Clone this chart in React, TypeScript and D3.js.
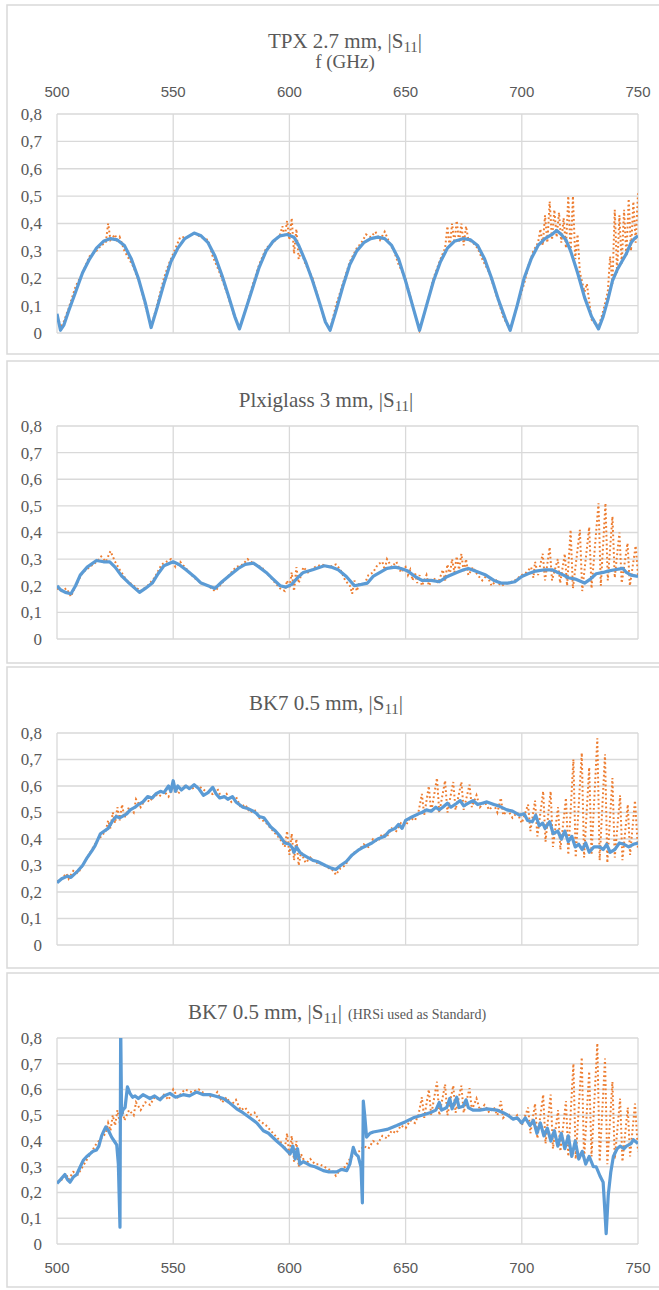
import React from 'react';
import * as d3 from 'd3';

type Pt = [number, number];

const freqTicks = [500, 550, 600, 650, 700, 750];
const s11Ticks = [0, 0.1, 0.2, 0.3, 0.4, 0.5, 0.6, 0.7, 0.8];

// TPX 2.7 mm
const tpxMeasured: Pt[] = [
  [500, 0.07], [501.5, 0.01], [503, 0.03], [505, 0.08], [508, 0.15], [511, 0.22], [514, 0.27], [517, 0.31],
  [520, 0.335], [523, 0.345], [526, 0.34], [529, 0.32], [532, 0.27], [535, 0.2], [538, 0.11], [540.5, 0.02],
  [543, 0.09], [546, 0.18], [549, 0.26], [552, 0.31], [555, 0.345], [559, 0.365], [562, 0.355], [565, 0.33],
  [568, 0.28], [571, 0.21], [574, 0.13], [576.5, 0.06], [578.5, 0.015],
  [581, 0.08], [584, 0.16], [587, 0.24], [590, 0.3], [593, 0.335], [596, 0.355], [599, 0.36], [602, 0.35],
  [604, 0.32], [607, 0.26], [610, 0.19], [613, 0.11], [615.5, 0.04], [617.5, 0.01],
  [620, 0.08], [623, 0.17], [626, 0.25], [629, 0.3], [632, 0.33], [635, 0.345], [638, 0.35], [641, 0.345],
  [644, 0.32], [647, 0.27], [650, 0.19], [653, 0.1], [656, 0.01],
  [659, 0.1], [662, 0.19], [665, 0.26], [668, 0.31], [671, 0.335], [675, 0.345], [678, 0.34], [681, 0.32],
  [684, 0.27], [687, 0.2], [690, 0.12], [693, 0.05], [695, 0.01],
  [698, 0.1], [701, 0.2], [704, 0.27], [707, 0.32], [710, 0.345], [713, 0.36], [715, 0.375], [717, 0.36],
  [719, 0.34], [721, 0.3], [724, 0.22], [727, 0.13], [730, 0.06], [733, 0.015],
  [735, 0.06], [737, 0.12], [739, 0.19], [741, 0.23], [743, 0.26], [745, 0.29], [747, 0.33], [748.5, 0.345], [750, 0.355],
];

const tpxReference: Pt[] = [
  [500, 0.06], [502, 0.02], [505, 0.09], [508, 0.17], [511, 0.22], [514, 0.28], [517, 0.3], [519, 0.32],
  [521, 0.33], [522, 0.4], [523, 0.34], [525, 0.36], [526, 0.33], [527, 0.35], [529, 0.3], [531, 0.27],
  [533, 0.24], [536, 0.17], [538, 0.1], [540.5, 0.02], [543, 0.1], [546, 0.2], [548, 0.25], [551, 0.31],
  [553, 0.35], [556, 0.35], [559, 0.365], [562, 0.35], [565, 0.34], [567, 0.28], [570, 0.22], [573, 0.15],
  [576, 0.07], [578.5, 0.02], [581, 0.08], [584, 0.17], [587, 0.25], [590, 0.31], [593, 0.33], [596, 0.36],
  [597, 0.39], [598, 0.35], [599, 0.41], [600, 0.34], [601, 0.42], [602, 0.29], [603, 0.38], [604, 0.27],
  [605, 0.3], [607, 0.25], [610, 0.2], [613, 0.11], [615, 0.05], [617.5, 0.01], [620, 0.1], [623, 0.18],
  [626, 0.26], [629, 0.31], [631, 0.33], [633, 0.36], [635, 0.35], [637, 0.37], [639, 0.34], [641, 0.37],
  [643, 0.33], [645, 0.3], [647, 0.25], [650, 0.2], [653, 0.1], [656, 0.01], [659, 0.1], [662, 0.2],
  [665, 0.27], [667, 0.31], [668, 0.39], [669, 0.31], [670, 0.4], [671, 0.33], [672, 0.41], [673, 0.33],
  [674, 0.4], [675, 0.32], [676, 0.39], [677, 0.34], [679, 0.33], [681, 0.31], [683, 0.27], [686, 0.22],
  [689, 0.14], [692, 0.06], [695, 0.01], [698, 0.1], [701, 0.18], [703, 0.25], [705, 0.3], [707, 0.33],
  [708, 0.38], [709, 0.32], [710, 0.43], [711, 0.33], [712, 0.48], [713, 0.34], [714, 0.45], [715, 0.35],
  [716, 0.44], [717, 0.33], [718, 0.42], [719, 0.31], [720, 0.5], [721, 0.29], [722, 0.5], [723, 0.27],
  [724, 0.36], [725, 0.22], [727, 0.15], [728, 0.18], [730, 0.05], [733, 0.02], [735, 0.08], [737, 0.15],
  [738, 0.28], [739, 0.18], [740, 0.45], [741, 0.22], [742, 0.43], [743, 0.25], [744, 0.45], [745, 0.28],
  [746, 0.49], [747, 0.3], [748, 0.48], [749, 0.33], [750, 0.51],
];

// Plexiglass 3 mm
const plexiMeasured: Pt[] = [
  [500, 0.2], [501.5, 0.185], [503.6, 0.175], [506, 0.17], [508, 0.2], [510, 0.24], [513, 0.27], [517, 0.295],
  [520, 0.29], [522.7, 0.29], [525, 0.27], [528, 0.235], [531, 0.21], [535.5, 0.175], [538, 0.19], [541, 0.21],
  [543.5, 0.245], [546, 0.275], [550, 0.29], [552.5, 0.28], [555.5, 0.26], [559, 0.235], [562, 0.21], [565, 0.2],
  [568, 0.19], [571, 0.215], [574.5, 0.24], [578, 0.265], [581, 0.28], [584.5, 0.285], [587, 0.27], [590, 0.25],
  [593, 0.225], [596, 0.2], [598.5, 0.195], [601, 0.205], [603.5, 0.23], [606, 0.25], [610, 0.26], [615, 0.275],
  [618, 0.27], [621, 0.26], [624.5, 0.235], [628, 0.2], [631, 0.205], [633.6, 0.21], [636, 0.235], [639, 0.25],
  [642, 0.265], [645.5, 0.27], [648, 0.265], [651, 0.255], [654, 0.235], [657, 0.22], [661, 0.22], [664.5, 0.215],
  [668, 0.235], [672, 0.25], [675, 0.26], [677, 0.265], [680, 0.255], [684.5, 0.24], [688, 0.22], [691, 0.21],
  [694, 0.21], [697, 0.215], [700, 0.235], [702.7, 0.245], [706, 0.255], [710, 0.26], [713, 0.26], [715.5, 0.25],
  [718, 0.24], [720, 0.23], [723, 0.225], [727, 0.21], [729.5, 0.225], [732, 0.245], [735, 0.25], [737, 0.255],
  [740, 0.26], [743.5, 0.265], [745, 0.25], [747, 0.24], [750, 0.235],
];

const plexiReference: Pt[] = [
  [500, 0.19], [502, 0.18], [504, 0.19], [506, 0.16], [508, 0.2], [511, 0.25], [514, 0.27], [517, 0.29],
  [519, 0.31], [521, 0.29], [523, 0.33], [525, 0.29], [527, 0.26], [530, 0.22], [533, 0.2], [536, 0.18],
  [539, 0.2], [542, 0.23], [545, 0.28], [547, 0.29], [549, 0.3], [551, 0.27], [553, 0.29], [556, 0.26],
  [559, 0.23], [562, 0.21], [565, 0.2], [568, 0.18], [571, 0.21], [574, 0.24], [577, 0.27], [580, 0.28],
  [582, 0.3], [585, 0.28], [588, 0.27], [591, 0.24], [594, 0.21], [596, 0.19], [598, 0.18], [599, 0.22],
  [600, 0.19], [601, 0.25], [602, 0.18], [603, 0.27], [604, 0.21], [606, 0.27], [608, 0.25], [611, 0.27],
  [614, 0.28], [617, 0.27], [620, 0.28], [622, 0.26], [624, 0.22], [626, 0.2], [627, 0.17], [628, 0.22],
  [629, 0.18], [630, 0.21], [632, 0.2], [634, 0.24], [636, 0.25], [638, 0.28], [640, 0.29], [641, 0.26],
  [642, 0.3], [644, 0.27], [646, 0.29], [648, 0.25], [650, 0.27], [651, 0.24], [652, 0.26], [653, 0.22],
  [654, 0.25], [655, 0.21], [656, 0.24], [657, 0.2], [659, 0.24], [660, 0.2], [662, 0.23], [664, 0.21],
  [666, 0.26], [667, 0.22], [668, 0.28], [669, 0.24], [670, 0.3], [671, 0.25], [672, 0.31], [673, 0.26],
  [674, 0.32], [675, 0.25], [676, 0.3], [677, 0.24], [679, 0.27], [681, 0.24], [683, 0.22], [685, 0.24],
  [687, 0.2], [689, 0.22], [691, 0.2], [694, 0.21], [697, 0.22], [700, 0.24], [702, 0.25], [704, 0.27],
  [705, 0.23], [705.7, 0.29], [707, 0.24], [709, 0.32], [710, 0.22], [712, 0.345], [713, 0.22], [715.5, 0.3],
  [716.5, 0.21], [718.5, 0.32], [719.5, 0.2], [721, 0.41], [722, 0.19], [725, 0.41], [726, 0.18], [729, 0.42],
  [730, 0.19], [733, 0.51], [734, 0.2], [736, 0.51], [737, 0.22], [739, 0.46], [740, 0.23], [742, 0.4],
  [743, 0.21], [745.5, 0.36], [746.5, 0.2], [749, 0.35], [750, 0.24],
];

// BK7 0.5 mm
const bk7Measured: Pt[] = [
  [500, 0.235], [502, 0.25], [504.5, 0.26], [506, 0.255], [509, 0.28], [511, 0.3], [513, 0.33], [515, 0.355],
  [516.4, 0.375], [518.7, 0.42], [522, 0.44], [524, 0.47], [525.5, 0.485], [527, 0.48], [530, 0.495], [531.5, 0.51],
  [533.6, 0.52], [535, 0.53], [537, 0.54], [539, 0.56], [541, 0.555], [542.5, 0.57], [544.5, 0.58], [546, 0.575],
  [548, 0.6], [549, 0.58], [550, 0.62], [551, 0.58], [552, 0.6], [553.5, 0.585], [555.5, 0.6], [557, 0.59],
  [559, 0.605], [561, 0.59], [563, 0.565], [565, 0.575], [567, 0.595], [568.5, 0.57], [570, 0.555], [572, 0.56],
  [573.5, 0.55], [575.5, 0.56], [577, 0.54], [580, 0.52], [582, 0.515], [584.5, 0.505], [586, 0.495], [587, 0.485],
  [589, 0.48], [592, 0.445], [594, 0.43], [596, 0.41], [598, 0.385], [600, 0.38], [601, 0.37], [602, 0.35],
  [603, 0.37], [604.5, 0.35], [606, 0.34], [608, 0.33], [610, 0.32], [612, 0.315], [615.5, 0.3], [618, 0.29],
  [620, 0.285], [622, 0.3], [624.5, 0.315], [627, 0.34], [630, 0.36], [632, 0.37], [635.5, 0.385], [638, 0.4],
  [641, 0.41], [643, 0.43], [645.5, 0.44], [647, 0.455], [648.5, 0.44], [650, 0.47], [652, 0.48], [655.5, 0.495],
  [657, 0.5], [659, 0.51], [661, 0.505], [663, 0.52], [664.5, 0.51], [666, 0.52], [668, 0.535], [669.5, 0.52],
  [672, 0.535], [673.5, 0.545], [675, 0.525], [677, 0.535], [679, 0.545], [681, 0.53], [683, 0.535], [685, 0.54],
  [688, 0.53], [690, 0.525], [693.6, 0.51], [696, 0.505], [699, 0.49], [701, 0.495], [702.5, 0.47], [704.5, 0.465],
  [706, 0.49], [707.5, 0.45], [709, 0.46], [710, 0.44], [712, 0.465], [713.5, 0.42], [715.5, 0.43], [717, 0.4],
  [718.5, 0.43], [720, 0.39], [721.5, 0.41], [723, 0.37], [724.5, 0.38], [726, 0.36], [727.5, 0.385], [729, 0.35],
  [731, 0.37], [733.6, 0.37], [735, 0.36], [736.5, 0.38], [738, 0.35], [740, 0.36], [742, 0.385], [744, 0.38],
  [746, 0.37], [748, 0.38], [750, 0.385],
];

// same reference sweep in both BK7 panels
const bk7Reference: Pt[] = [
  [500, 0.24], [502, 0.25], [504, 0.27], [505, 0.25], [507, 0.28], [509, 0.27], [511, 0.3], [513, 0.33],
  [515, 0.36], [517, 0.39], [519, 0.41], [521, 0.43], [522, 0.47], [523, 0.44], [524, 0.5], [525, 0.46],
  [526, 0.52], [527, 0.47], [528, 0.53], [529, 0.48], [531, 0.52], [533, 0.5], [534, 0.55], [536, 0.52],
  [538, 0.55], [540, 0.54], [542, 0.57], [544, 0.56], [546, 0.58], [548, 0.56], [550, 0.6], [552, 0.57],
  [555, 0.6], [558, 0.59], [561, 0.6], [564, 0.58], [567, 0.57], [569, 0.59], [571, 0.55], [573, 0.57],
  [575, 0.54], [577, 0.56], [579, 0.52], [581, 0.53], [583, 0.5], [585, 0.51], [587, 0.48], [590, 0.46],
  [593, 0.43], [596, 0.4], [598, 0.37], [599, 0.43], [600, 0.34], [601, 0.42], [602, 0.32], [603, 0.4],
  [604, 0.3], [605, 0.35], [607, 0.31], [609, 0.33], [611, 0.31], [613, 0.31], [615, 0.3], [617, 0.29],
  [619, 0.28], [620, 0.265], [622, 0.29], [624, 0.3], [626, 0.33], [628, 0.35], [630, 0.36], [632, 0.38],
  [634, 0.37], [636, 0.4], [638, 0.39], [640, 0.42], [642, 0.41], [644, 0.44], [646, 0.43], [648, 0.46],
  [650, 0.45], [652, 0.48], [654, 0.47], [655.5, 0.5], [657, 0.57], [658, 0.49], [660, 0.6], [661, 0.5],
  [663.5, 0.63], [664.5, 0.5], [667, 0.62], [668, 0.5], [670.5, 0.615], [671.5, 0.51], [674, 0.615], [675, 0.51],
  [677.5, 0.605], [678.5, 0.52], [680.5, 0.565], [682, 0.52], [684, 0.54], [686, 0.51], [688, 0.53], [689.5, 0.5],
  [691, 0.555], [692, 0.49], [694, 0.51], [696, 0.48], [698, 0.5], [700, 0.46], [702.7, 0.53], [703.7, 0.43],
  [705.7, 0.545], [706.7, 0.41], [709.2, 0.58], [710.2, 0.39], [712.4, 0.58], [713.4, 0.37], [715.6, 0.52], [716.6, 0.36],
  [719, 0.555], [720, 0.34], [722.2, 0.7], [723.2, 0.33], [725.8, 0.725], [726.8, 0.33], [729, 0.67], [730, 0.34],
  [732.5, 0.78], [733.5, 0.32], [735.8, 0.72], [736.8, 0.31], [739, 0.63], [740, 0.33], [742.3, 0.565], [743.3, 0.32],
  [745.6, 0.53], [746.6, 0.34], [748.7, 0.545], [750, 0.36],
];

// BK7 0.5 mm, HRSi used as standard
const bk7HrsiMeasured: Pt[] = [
  [500, 0.235], [501.5, 0.25], [503.4, 0.27], [504.5, 0.25], [505.6, 0.24], [507, 0.26], [508.5, 0.27], [510, 0.3],
  [511.3, 0.325], [512.8, 0.34], [514.2, 0.35], [515.5, 0.36], [517, 0.365], [518, 0.38], [519.2, 0.42], [520.2, 0.44],
  [521, 0.455], [522.2, 0.44], [523.5, 0.415], [524.6, 0.4], [525.7, 0.385], [526.4, 0.31], [527.1, 0.065], [527.4, 0.85],
  [527.8, 0.5], [528.3, 0.52], [529.3, 0.53], [530.3, 0.61], [531.4, 0.585], [532.5, 0.57], [533.6, 0.575], [535, 0.565],
  [537, 0.58], [540, 0.565], [542, 0.575], [544.3, 0.56], [546, 0.575], [548.6, 0.585], [551, 0.57], [554.3, 0.58],
  [557, 0.575], [560, 0.59], [563, 0.58], [565.8, 0.58], [568, 0.575], [571.6, 0.565], [574, 0.55], [577.3, 0.525],
  [580, 0.51], [583, 0.49], [586, 0.47], [588.8, 0.44], [591, 0.43], [594.5, 0.4], [597, 0.38], [600.3, 0.35],
  [601.5, 0.38], [602.5, 0.33], [603.5, 0.37], [604.5, 0.31], [606, 0.32], [608.9, 0.305], [611, 0.3], [614.6, 0.285],
  [617, 0.28], [620.3, 0.28], [622.5, 0.29], [624.7, 0.285], [626, 0.31], [627.5, 0.375], [628.5, 0.35], [629.6, 0.34],
  [630.8, 0.3], [631.4, 0.16], [631.8, 0.555], [632.4, 0.5], [633.2, 0.415], [634.7, 0.43], [636.1, 0.435], [639, 0.44],
  [642, 0.445], [646.2, 0.46], [650, 0.475], [653.3, 0.49], [657, 0.5], [660.5, 0.51], [663, 0.52], [664.5, 0.55],
  [665.5, 0.52], [667.7, 0.53], [669, 0.565], [670, 0.525], [672, 0.57], [673, 0.53], [674.8, 0.535], [676, 0.56],
  [677, 0.53], [679, 0.52], [682, 0.52], [685, 0.525], [689.2, 0.52], [692, 0.51], [694, 0.5], [696.3, 0.485],
  [698, 0.49], [700, 0.47], [701.5, 0.49], [703.5, 0.46], [705, 0.48], [706.5, 0.43], [708, 0.47], [709.5, 0.42],
  [711, 0.45], [712.5, 0.4], [714, 0.44], [715.5, 0.38], [717, 0.43], [718.5, 0.37], [720, 0.42], [721.5, 0.34],
  [723, 0.4], [724.5, 0.33], [726, 0.36], [727.5, 0.31], [729, 0.34], [730.8, 0.3], [732, 0.3], [733.6, 0.265],
  [735, 0.24], [735.8, 0.12], [736.3, 0.04], [737.2, 0.19], [738.3, 0.28], [739.4, 0.34], [741, 0.37], [742.3, 0.38],
  [744, 0.37], [745, 0.38], [747, 0.39], [748, 0.405], [750, 0.39],
];

const BLUE = '#5b9bd5';
const ORANGE = '#ed7d31';
const GRID = '#d9d9d9';
const TEXT = '#595959';

const locale = d3.formatLocale({ decimal: ',', thousands: '.', grouping: [3], currency: ['', ''] });
const fmtS11 = locale.format('.1~f');

const x = d3.scaleLinear().domain([500, 750]).range([57, 638]);

type PanelCfg = {
  id: string;
  title: string;
  note?: string;
  titleX: number;
  titleY: number;
  frameTop: number;
  frameBottom: number;
  top: number;
  bottom: number;
  axis: 'top' | 'bottom';
  measured: Pt[];
  reference: Pt[];
};

const panels: PanelCfg[] = [
  { id: 'p1', title: 'TPX 2.7 mm, ', titleX: 345, titleY: 48, frameTop: 5, frameBottom: 354, top: 114, bottom: 333, axis: 'top', measured: tpxMeasured, reference: tpxReference },
  { id: 'p2', title: 'Plxiglass 3 mm, ', titleX: 326, titleY: 407, frameTop: 361, frameBottom: 663, top: 426, bottom: 639, axis: 'bottom', measured: plexiMeasured, reference: plexiReference },
  { id: 'p3', title: 'BK7 0.5 mm, ', titleX: 326, titleY: 710, frameTop: 667, frameBottom: 968, top: 733, bottom: 945, axis: 'bottom', measured: bk7Measured, reference: bk7Reference },
  { id: 'p4', title: 'BK7 0.5 mm, ', note: '(HRSi used as Standard)', titleX: 337, titleY: 1019, frameTop: 973, frameBottom: 1287, top: 1038, bottom: 1244, axis: 'bottom', measured: bk7HrsiMeasured, reference: bk7Reference },
];

function Panel({ p }: { p: PanelCfg }) {
  const y = d3.scaleLinear().domain([0, 0.8]).range([p.bottom, p.top]);
  const line = d3.line<Pt>().x((d) => x(d[0])).y((d) => y(d[1]));
  const serif = '"Liberation Serif", "Times New Roman", serif';
  const sans = '"Liberation Sans", Arial, sans-serif';
  return (
    <g>
      <rect x={7} y={p.frameTop} width={660} height={p.frameBottom - p.frameTop} fill="white" stroke={GRID} strokeWidth={1.5} />
      <defs>
        <clipPath id={`clip-${p.id}`}>
          <rect x={x(500)} y={y(0.8)} width={x(750) - x(500)} height={y(0) - y(0.8)} />
        </clipPath>
      </defs>
      <text x={p.titleX} y={p.titleY} textAnchor="middle" fontFamily={serif} fontSize={21} fill={TEXT}>
        {p.title}|S<tspan dy={4} fontSize={15}>11</tspan>
        <tspan dy={-4}>|</tspan>
        {p.note ? <tspan fontSize={14} dx={6}>{p.note}</tspan> : null}
      </text>
      {p.axis === 'top' ? (
        <text x={345} y={68} textAnchor="middle" fontFamily={serif} fontSize={19} fill={TEXT}>f (GHz)</text>
      ) : null}
      {s11Ticks.map((t) => (
        <line key={`h${t}`} x1={x(500)} x2={x(750)} y1={y(t)} y2={y(t)} stroke={GRID} strokeWidth={1.3} />
      ))}
      {freqTicks.map((t) => (
        <line key={`v${t}`} x1={x(t)} x2={x(t)} y1={y(0)} y2={y(0.8)} stroke={GRID} strokeWidth={1.3} />
      ))}
      {s11Ticks.map((t) => (
        <text key={`yl${t}`} x={42} y={y(t)} dy="0.35em" textAnchor="end" fontFamily={serif} fontSize={17} fill={TEXT}>
          {fmtS11(t)}
        </text>
      ))}
      {p.axis === 'top'
        ? freqTicks.map((t) => (
            <text key={`xt${t}`} x={x(t)} y={97} textAnchor="middle" fontFamily={sans} fontSize={15} fill={TEXT}>{t}</text>
          ))
        : p.note
        ? freqTicks.map((t) => (
            <text key={`xb${t}`} x={x(t)} y={1273} textAnchor="middle" fontFamily={sans} fontSize={15} fill={TEXT}>{t}</text>
          ))
        : null}
      <g clipPath={`url(#clip-${p.id})`}>
        <path d={line(p.reference) ?? ''} fill="none" stroke={ORANGE} strokeWidth={2} strokeDasharray="1.8 2.6" />
        <path d={line(p.measured) ?? ''} fill="none" stroke={BLUE} strokeWidth={3.2} strokeLinejoin="round" />
      </g>
    </g>
  );
}

export default function App() {
  return (
    <>
      <style>{'body{margin:0}'}</style>
      <svg width={659} height={1290} style={{ display: 'block', background: 'white' }}>
        {panels.map((p) => (
          <Panel key={p.id} p={p} />
        ))}
      </svg>
    </>
  );
}
